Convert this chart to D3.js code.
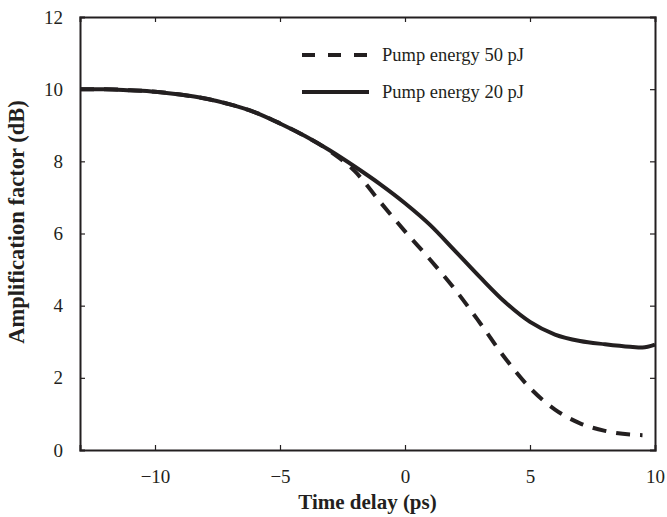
<!DOCTYPE html>
<html>
<head>
<meta charset="utf-8">
<script src="https://cdn.jsdelivr.net/npm/d3@7"></script>
<style>
	body { margin: 0; background: #fff; }
	svg { display: block; }
	text { font-family: "Liberation Serif", "Times New Roman", serif; fill: #231f20; }
</style>
</head>
<body>
<div id="chart"></div>
<script>
// time delay (ps) and amplification (dB)
var delay20 = [-13, -12, -11, -10, -9, -8, -7, -6, -5, -4, -3, -2, -1, 0, 1, 2, 3, 4, 5, 6, 7, 8, 9, 9.5, 10];
var gain20  = [10.0, 10.0, 9.97, 9.93, 9.85, 9.74, 9.58, 9.36, 9.05, 8.7, 8.3, 7.85, 7.37, 6.84, 6.24, 5.52, 4.79, 4.1, 3.55, 3.2, 3.02, 2.93, 2.86, 2.84, 2.92];

var delay50 = [-13, -12, -11, -10, -9, -8, -7, -6, -5, -4, -3, -2, -1, 0, 1, 2, 3, 4, 5, 6, 7, 8, 9, 9.5];
var gain50  = [10.0, 10.0, 9.97, 9.93, 9.85, 9.74, 9.58, 9.36, 9.05, 8.7, 8.28, 7.72, 6.88, 6.06, 5.28, 4.45, 3.52, 2.55, 1.72, 1.12, 0.74, 0.53, 0.43, 0.41];

var xTicks = [-10, -5, 0, 5, 10];
var yTicks = [0, 2, 4, 6, 8, 10, 12];
var legendLabels = ["Pump energy 50 pJ", "Pump energy 20 pJ"];

var width = 667,
	height = 517,
	margin = {top: 17, right: 12, bottom: 67, left: 80},
	ink = "#231f20";

var svg = d3.select("#chart").append("svg")
	.attr("width", width)
	.attr("height", height);

var x = d3.scaleLinear().domain([-13, 10]).range([margin.left, width - margin.right]);
var y = d3.scaleLinear().domain([0, 12]).range([height - margin.bottom, margin.top]);

function pairs(xs, ys) {
	return xs.map(function(d, i) { return [d, ys[i]]; });
}

var line = d3.line()
	.x(function(d) { return x(d[0]); })
	.y(function(d) { return y(d[1]); })
	.curve(d3.curveMonotoneX);

// curves
svg.append("path")
	.datum(pairs(delay20, gain20))
	.attr("d", line)
	.attr("fill", "none")
	.attr("stroke", ink)
	.attr("stroke-width", 4);

svg.append("path")
	.datum(pairs(delay50, gain50))
	.attr("d", line)
	.attr("fill", "none")
	.attr("stroke", ink)
	.attr("stroke-width", 4)
	.attr("stroke-dasharray", "14,10");

// axes, ticks inside on all four sides
var tickLen = 5;
var fmt = function(d) { return d < 0 ? "\u2212" + Math.abs(d) : d; };

var axisB = svg.append("g").attr("transform", "translate(0," + y(0) + ")")
	.call(d3.axisBottom(x).tickValues(xTicks).tickSize(-tickLen).tickPadding(20).tickFormat(fmt));
var axisT = svg.append("g").attr("transform", "translate(0," + y(12) + ")")
	.call(d3.axisTop(x).tickValues(xTicks).tickSize(-tickLen).tickFormat(""));
var axisL = svg.append("g").attr("transform", "translate(" + x(-13) + ",0)")
	.call(d3.axisLeft(y).tickValues(yTicks).tickSize(-tickLen).tickPadding(17));
var axisR = svg.append("g").attr("transform", "translate(" + x(10) + ",0)")
	.call(d3.axisRight(y).tickValues(yTicks).tickSize(-tickLen).tickFormat(""));

[axisB, axisT, axisL, axisR].forEach(function(g) {
	g.select(".domain").attr("stroke", ink).attr("stroke-width", 2);
	g.selectAll(".tick line").attr("stroke", ink).attr("stroke-width", 1.2);
	g.selectAll(".tick text")
		.attr("font-family", "Liberation Serif")
		.attr("font-size", 19)
		.attr("fill", ink);
});
// the end ticks sit on the frame
axisB.selectAll(".tick line").filter(function(d) { return d == 10; }).remove();
axisT.selectAll(".tick line").filter(function(d) { return d == 10; }).remove();
axisL.selectAll(".tick line").filter(function(d) { return d == 0 || d == 12; }).remove();
axisR.selectAll(".tick line").filter(function(d) { return d == 0 || d == 12; }).remove();

// axis titles
svg.append("text")
	.attr("x", (x(-13) + x(10)) / 2)
	.attr("y", 509)
	.attr("text-anchor", "middle")
	.attr("font-size", 21)
	.attr("font-weight", "bold")
	.text("Time delay (ps)");

svg.append("text")
	.attr("transform", "translate(24,222) rotate(-90)")
	.attr("text-anchor", "middle")
	.attr("font-size", 22.5)
	.attr("font-weight", "bold")
	.text("Amplification factor (dB)");

// legend
var legend = svg.append("g");
var legendY = [55, 92];
legendLabels.forEach(function(label, i) {
	legend.append("line")
		.attr("x1", 302).attr("x2", 369)
		.attr("y1", legendY[i]).attr("y2", legendY[i])
		.attr("stroke", ink)
		.attr("stroke-width", 4)
		.attr("stroke-dasharray", i == 0 ? "13,13" : null);
	legend.append("text")
		.attr("x", 382)
		.attr("y", legendY[i] + 6)
		.attr("font-size", 18.5)
		.text(label);
});
</script>
</body>
</html>
